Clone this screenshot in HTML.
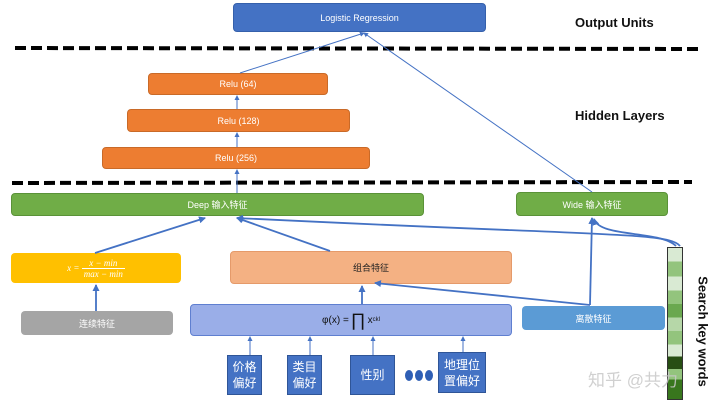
<!DOCTYPE html>
<html><head><meta charset="utf-8"><style>
body{margin:0;width:720px;height:405px;background:#fff;overflow:hidden;position:relative;font-family:"Liberation Sans","Noto Sans CJK SC",sans-serif}
.b{position:absolute;display:flex;align-items:center;justify-content:center;color:#fff;font-size:9px;box-sizing:border-box;border-radius:4px}
.o{background:#ed7d31;border:1px solid #c96a28}
.g{background:#70ad47;border:1px solid #5a9238}
.d{background:#4472c4;border:1px solid #2f5597;border-radius:0;font-size:12px;line-height:16px;text-align:center}
.t{position:absolute;font-weight:bold;font-size:13px;color:#111}
</style></head><body>
<div class="b" style="left:233px;top:3px;width:253px;height:29px;background:#4472c4;border:1px solid #3560ab">Logistic Regression</div>
<div class="t" style="left:575px;top:15px">Output Units</div>
<div class="t" style="left:575px;top:108px">Hidden Layers</div>
<div class="b o" style="left:148px;top:73px;width:180px;height:22px">Relu (64)</div>
<div class="b o" style="left:127px;top:109px;width:223px;height:23px">Relu (128)</div>
<div class="b o" style="left:102px;top:147px;width:268px;height:22px">Relu (256)</div>
<div class="b g" style="left:11px;top:193px;width:413px;height:23px">Deep 输入特征</div>
<div class="b g" style="left:516px;top:192px;width:152px;height:24px">Wide 输入特征</div>
<div class="b" style="left:11px;top:253px;width:170px;height:30px;background:#ffc000;font-family:'Liberation Serif',serif;font-style:italic;font-size:9px"><span>x =&nbsp;</span><span style="display:inline-flex;flex-direction:column;align-items:center"><span>x − min</span><span style="border-top:1px solid #fff;padding:0 2px">max − min</span></span></div>
<div class="b" style="left:230px;top:251px;width:282px;height:33px;background:#f4b183;border:1px solid #e59a6a;color:#222">组合特征</div>
<div class="b" style="left:21px;top:311px;width:152px;height:24px;background:#a5a5a5">连续特征</div>
<div class="b" style="left:190px;top:304px;width:322px;height:32px;background:#9aaee8;border:1px solid #5f7fd0;color:#111;font-size:10px">φ(x) = <span style="font-size:18px;margin:0 2px">∏</span>x<sup style="font-size:6px">ckl</sup></div>
<div class="b" style="left:522px;top:306px;width:143px;height:24px;background:#5b9bd5">离散特征</div>
<div class="b d" style="left:227px;top:355px;width:35px;height:40px">价格<br>偏好</div>
<div class="b d" style="left:287px;top:355px;width:35px;height:40px">类目<br>偏好</div>
<div class="b d" style="left:350px;top:355px;width:45px;height:40px">性别</div>
<div class="b d" style="left:438px;top:352px;width:48px;height:41px">地理位<br>置偏好</div>
<div style="position:absolute;left:405px;top:370px;display:flex;gap:2px"><span style="width:8px;height:11px;border-radius:50%;background:#2f5fb5"></span><span style="width:8px;height:11px;border-radius:50%;background:#2f5fb5"></span><span style="width:8px;height:11px;border-radius:50%;background:#2f5fb5"></span></div>
<div style="position:absolute;left:667px;top:247px;width:16px;height:153px;border:1px solid #333;box-sizing:border-box;background:linear-gradient(#d9ead3 0 9%,#93c47d 9% 19%,#d9ead3 19% 28%,#93c47d 28% 37%,#6aa84f 37% 46%,#b6d7a8 46% 55%,#93c47d 55% 64%,#d9ead3 64% 72%,#274e13 72% 80%,#93c47d 80% 87%,#38761d 87%)"></div>
<div style="position:absolute;left:633px;top:324px;width:140px;white-space:nowrap;transform:rotate(90deg);font-weight:bold;font-size:13px;color:#111;text-align:center">Search key words</div>
<div style="position:absolute;left:588px;top:366px;font-size:17px;color:rgba(200,200,200,0.85)">知乎 @共力</div>
<svg width="720" height="405" style="position:absolute;left:0;top:0" fill="none">
<defs><marker id="a" markerUnits="userSpaceOnUse" markerWidth="7" markerHeight="7" refX="6" refY="3.5" orient="auto"><path d="M0,0L7,3.5L0,7z" fill="#4472c4"/></marker>
<marker id="s" markerUnits="userSpaceOnUse" markerWidth="5" markerHeight="5" refX="4" refY="2.5" orient="auto"><path d="M0,0L5,2.5L0,5z" fill="#4472c4"/></marker></defs>
<g stroke="#000" stroke-width="4" stroke-dasharray="11,5"><line x1="15" y1="48" x2="700" y2="49"/><line x1="12" y1="183" x2="692" y2="182"/></g>
<g stroke="#4472c4" stroke-width="1" marker-end="url(#s)">
<line x1="240" y1="73" x2="364" y2="33"/><line x1="592" y1="192" x2="364" y2="33"/>
<line x1="237" y1="147" x2="237" y2="133"/><line x1="237" y1="109" x2="237" y2="96"/><line x1="237" y1="193" x2="237" y2="170"/>
<line x1="250" y1="355" x2="250" y2="337"/><line x1="310" y1="355" x2="310" y2="337"/><line x1="373" y1="355" x2="373" y2="337"/><line x1="463" y1="352" x2="463" y2="337"/>
</g>
<g stroke="#4472c4" stroke-width="1.8" marker-end="url(#a)">
<line x1="96" y1="311" x2="96" y2="285"/>
<line x1="362" y1="304" x2="362" y2="286"/>
<line x1="590" y1="305" x2="375" y2="283"/>
<polyline points="590,305 592,218"/>
<line x1="95" y1="253" x2="205" y2="218"/>
<line x1="330" y1="251" x2="237" y2="218"/>
<path d="M680,246 C670,232 600,236 237,218"/>
<path d="M676,246 C660,230 600,238 594,219"/>
</g>
</svg>
</body></html>
